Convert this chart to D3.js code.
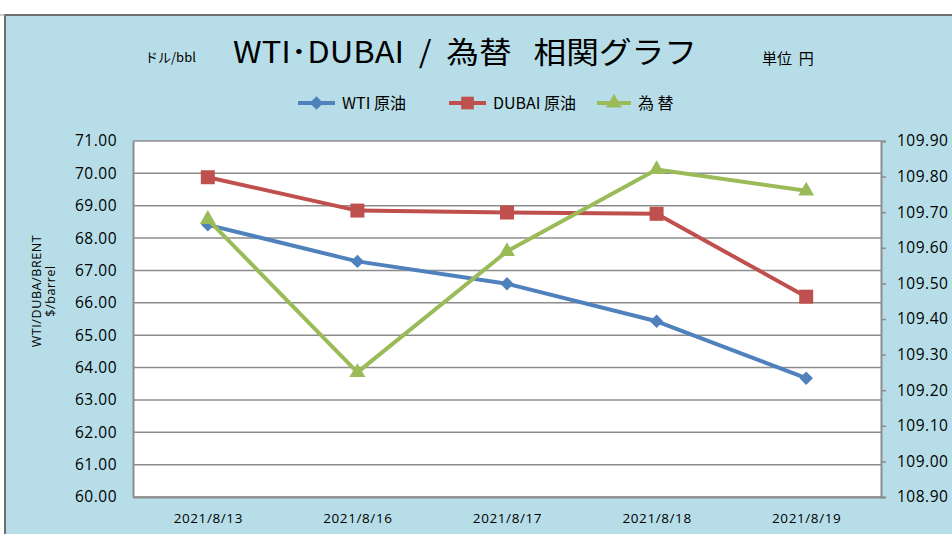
<!DOCTYPE html>
<html>
<head>
<meta charset="utf-8">
<script src="https://cdn.jsdelivr.net/npm/d3@7"></script>
<style>
  body { margin: 0; background: #fff; }
  text { font-family: "Open Sans", sans-serif; fill: #000; }
  .jp { font-family: "Noto Sans CJK JP", sans-serif; white-space: pre; }
</style>
</head>
<body>
<script>
// 値は画像から読み取り
const dates = ["2021/8/13", "2021/8/16", "2021/8/17", "2021/8/18", "2021/8/19"];
const wti = [68.41, 67.28, 66.59, 65.43, 63.67];
const dubai = [69.88, 68.85, 68.79, 68.75, 66.19];
const kawase = [109.68, 109.25, 109.59, 109.82, 109.76];
const leftTicks = [60, 61, 62, 63, 64, 65, 66, 67, 68, 69, 70, 71];
const rightTicks = [108.9, 109.0, 109.1, 109.2, 109.3, 109.4, 109.5, 109.6, 109.7, 109.8, 109.9];
const seriesNames = ["WTI 原油", "DUBAI 原油", "為 替"];

const WIDTH = 952;
const HEIGHT = 534;
const PLOT = { left: 133, right: 881, top: 141, bottom: 497 };

const svg = d3.select("body")
    .append("svg")
    .attr("width", WIDTH)
    .attr("height", HEIGHT);

// 背景と枠
svg.append("rect")
    .attr("x", 5).attr("y", 15)
    .attr("width", WIDTH).attr("height", HEIGHT)
    .attr("fill", "#b7dee8")
    .attr("stroke", "#6e6e6e")
    .attr("stroke-width", 2);
svg.append("line")
    .attr("x1", 0).attr("x2", 5).attr("y1", 15).attr("y2", 15)
    .attr("stroke", "#9a9a9a").attr("stroke-width", 1);

// タイトル
svg.append("text").attr("class", "jp")
    .attr("x", 145).attr("y", 62)
    .attr("font-size", 13)
    .text("ドル/bbl");
svg.append("text").attr("class", "jp")
    .attr("x", 233).attr("y", 63)
    .attr("font-size", 30)
    .attr("textLength", 464)
    .attr("lengthAdjust", "spacingAndGlyphs")
    .text("WTI･DUBAI  /  為替   相関グラフ");
svg.append("text").attr("class", "jp")
    .attr("x", 762).attr("y", 64)
    .attr("font-size", 15)
    .text("単位  円");

const x = d3.scalePoint()
    .domain(dates)
    .range([PLOT.left, PLOT.right])
    .padding(0.5);

const yL = d3.scaleLinear()
    .domain([60, 71])
    .range([PLOT.bottom, PLOT.top]);

const yR = d3.scaleLinear()
    .domain([108.9, 109.9])
    .range([PLOT.bottom, PLOT.top]);

// プロットエリア
svg.append("rect")
    .attr("x", PLOT.left).attr("y", PLOT.top)
    .attr("width", PLOT.right - PLOT.left)
    .attr("height", PLOT.bottom - PLOT.top)
    .attr("fill", "#fff");

svg.append("g")
    .selectAll("line")
    .data(leftTicks)
    .join("line")
    .attr("x1", PLOT.left).attr("x2", PLOT.right)
    .attr("y1", (d) => yL(d)).attr("y2", (d) => yL(d))
    .attr("stroke", "#8c8c8c")
    .attr("stroke-width", 1.5);

// 軸
const ejeIzq = svg.append("g")
    .attr("transform", `translate(${PLOT.left},0)`)
    .call(d3.axisLeft(yL).tickValues(leftTicks).tickFormat(d3.format(".2f")).tickSize(0).tickPadding(16));

const ejeDer = svg.append("g")
    .attr("transform", `translate(${PLOT.right},0)`)
    .call(d3.axisRight(yR).tickValues(rightTicks).tickFormat(d3.format(".2f")).tickSize(5).tickPadding(11));

const ejeX = svg.append("g")
    .attr("transform", `translate(0,${PLOT.bottom})`)
    .call(d3.axisBottom(x).tickSize(0).tickPadding(16));

[ejeIzq, ejeDer, ejeX].forEach((g) => {
    g.selectAll(".domain").attr("stroke", "#8c8c8c").attr("stroke-width", 2);
    g.selectAll(".tick line").attr("stroke", "#8c8c8c").attr("stroke-width", 1.5);
    g.selectAll("text").attr("font-family", "Open Sans, sans-serif").attr("fill", "#000");
});
ejeIzq.selectAll("text").attr("font-size", 15.5).attr("letter-spacing", 0.5);
ejeDer.selectAll("text").attr("font-size", 15.5).attr("letter-spacing", 0.5);
ejeX.selectAll("text").attr("font-size", 13.5).attr("letter-spacing", 0.6);

// 縦軸タイトル
const tituloY = svg.append("text")
    .attr("transform", "translate(41,291) rotate(-90)")
    .attr("text-anchor", "middle")
    .attr("font-size", 12.5)
    .attr("letter-spacing", 0.6);
tituloY.append("tspan").attr("x", 0).attr("dy", 0).text("WTI/DUBA/BRENT");
tituloY.append("tspan").attr("x", 0).attr("dy", 14).text("$/barrel");

// 系列
const series = [
    { name: seriesNames[0], values: wti, scale: yL, color: "#4f81bd", shape: "diamond" },
    { name: seriesNames[1], values: dubai, scale: yL, color: "#c0504d", shape: "square" },
    { name: seriesNames[2], values: kawase, scale: yR, color: "#9bbb59", shape: "triangle" },
];

function markerPath(shape) {
    if (shape === "diamond") return d3.symbol(d3.symbolSquare, 90)();
    if (shape === "square") return d3.symbol(d3.symbolSquare, 196)();
    return d3.symbol(d3.symbolTriangle, 110)();
}
function markerRot(shape) {
    return shape === "diamond" ? " rotate(45)" : "";
}

series.forEach((s) => {
    const linea = d3.line()
        .x((d, i) => x(dates[i]))
        .y((d) => s.scale(d));

    svg.append("path")
        .datum(s.values)
        .attr("d", linea)
        .attr("fill", "none")
        .attr("stroke", s.color)
        .attr("stroke-width", 4)
        .attr("stroke-linejoin", "round");

    svg.append("g")
        .selectAll("path")
        .data(s.values)
        .join("path")
        .attr("d", markerPath(s.shape))
        .attr("transform", (d, i) => `translate(${x(dates[i])},${s.scale(d)})${markerRot(s.shape)}`)
        .attr("fill", s.color);
});

// 凡例
const legendPos = [298, 449, 597];
const legendW = [37, 37, 34];
const leyenda = svg.append("g");
series.forEach((s, i) => {
    const g = leyenda.append("g").attr("transform", `translate(${legendPos[i]},103)`);
    g.append("line")
        .attr("x1", 0).attr("x2", legendW[i])
        .attr("stroke", s.color).attr("stroke-width", 4);
    g.append("path")
        .attr("d", s.shape === "square" ? d3.symbol(d3.symbolSquare, 160)() : markerPath(s.shape))
        .attr("transform", `translate(${legendW[i] / 2},0)${markerRot(s.shape)}`)
        .attr("fill", s.color);
    g.append("text").attr("class", "jp")
        .attr("x", legendW[i] + 7)
        .attr("y", 6)
        .attr("font-size", 16)
        .text(s.name);
});
</script>
</body>
</html>
